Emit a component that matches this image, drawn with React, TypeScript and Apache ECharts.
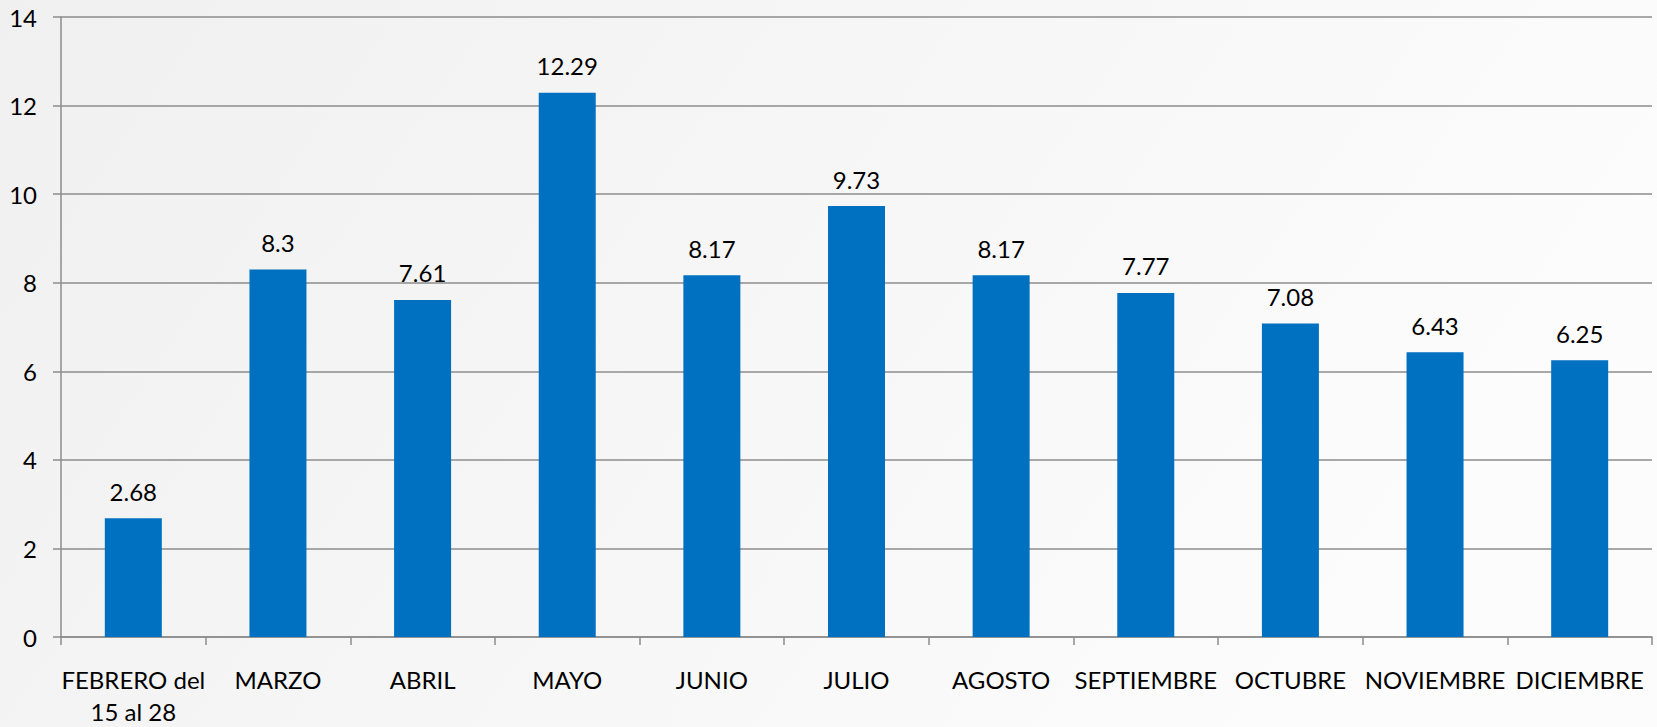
import React, { useEffect, useRef } from "react";
import * as echarts from "echarts";

const categories = [
  "FEBRERO del\n15 al 28",
  "MARZO",
  "ABRIL",
  "MAYO",
  "JUNIO",
  "JULIO",
  "AGOSTO",
  "SEPTIEMBRE",
  "OCTUBRE",
  "NOVIEMBRE",
  "DICIEMBRE",
];
const values = [2.68, 8.3, 7.61, 12.29, 8.17, 9.73, 8.17, 7.77, 7.08, 6.43, 6.25];
const yTicks = { min: 0, max: 14, interval: 2 };

const FONT = "Lato, 'Open Sans', sans-serif";

export default function App() {
  const ref = useRef<HTMLDivElement>(null);
  useEffect(() => {
    if (!ref.current) return;
    const chart = echarts.init(ref.current, null, { renderer: "svg" });
    chart.setOption({
      animation: false,
      backgroundColor: {
        type: "linear",
        x: 0,
        y: 0,
        x2: 1,
        y2: 0.3,
        colorStops: [
          { offset: 0, color: "#f0f0f0" },
          { offset: 0.5, color: "#f6f6f6" },
          { offset: 1, color: "#fcfcfc" },
        ],
      },
      grid: { left: 61, right: 5, top: 17, bottom: 88, containLabel: false },
      xAxis: {
        type: "category",
        data: categories,
        boundaryGap: true,
        axisLine: { show: true, lineStyle: { color: "#8c8c8c", width: 1.5 } },
        axisTick: {
          show: true,
          alignWithLabel: false,
          length: 8,
          lineStyle: { color: "#8c8c8c", width: 1.5 },
        },
        axisLabel: {
          interval: 0,
          margin: 26,
          color: "#000",
          fontFamily: FONT,
          fontSize: 24,
          lineHeight: 32,
        },
        splitLine: { show: false },
      },
      yAxis: {
        type: "value",
        min: yTicks.min,
        max: yTicks.max,
        interval: yTicks.interval,
        axisLine: { show: true, lineStyle: { color: "#8c8c8c", width: 1.5 } },
        axisTick: { show: true, length: 8, lineStyle: { color: "#8c8c8c", width: 1.5 } },
        axisLabel: {
          margin: 24,
          color: "#000",
          fontFamily: FONT,
          fontSize: 24,
        },
        splitLine: { show: true, lineStyle: { color: "#8c8c8c", width: 1.5 } },
      },
      series: [
        {
          type: "bar",
          data: values,
          barWidth: 57,
          itemStyle: { color: "#0070c0" },
          label: {
            show: true,
            position: "top",
            distance: 15,
            color: "#000",
            fontFamily: FONT,
            fontSize: 24,
          },
        },
      ],
    });
    return () => chart.dispose();
  }, []);
  return (
    <div
      ref={ref}
      style={{ position: "fixed", left: 0, top: 0, width: 1657, height: 727 }}
    />
  );
}
